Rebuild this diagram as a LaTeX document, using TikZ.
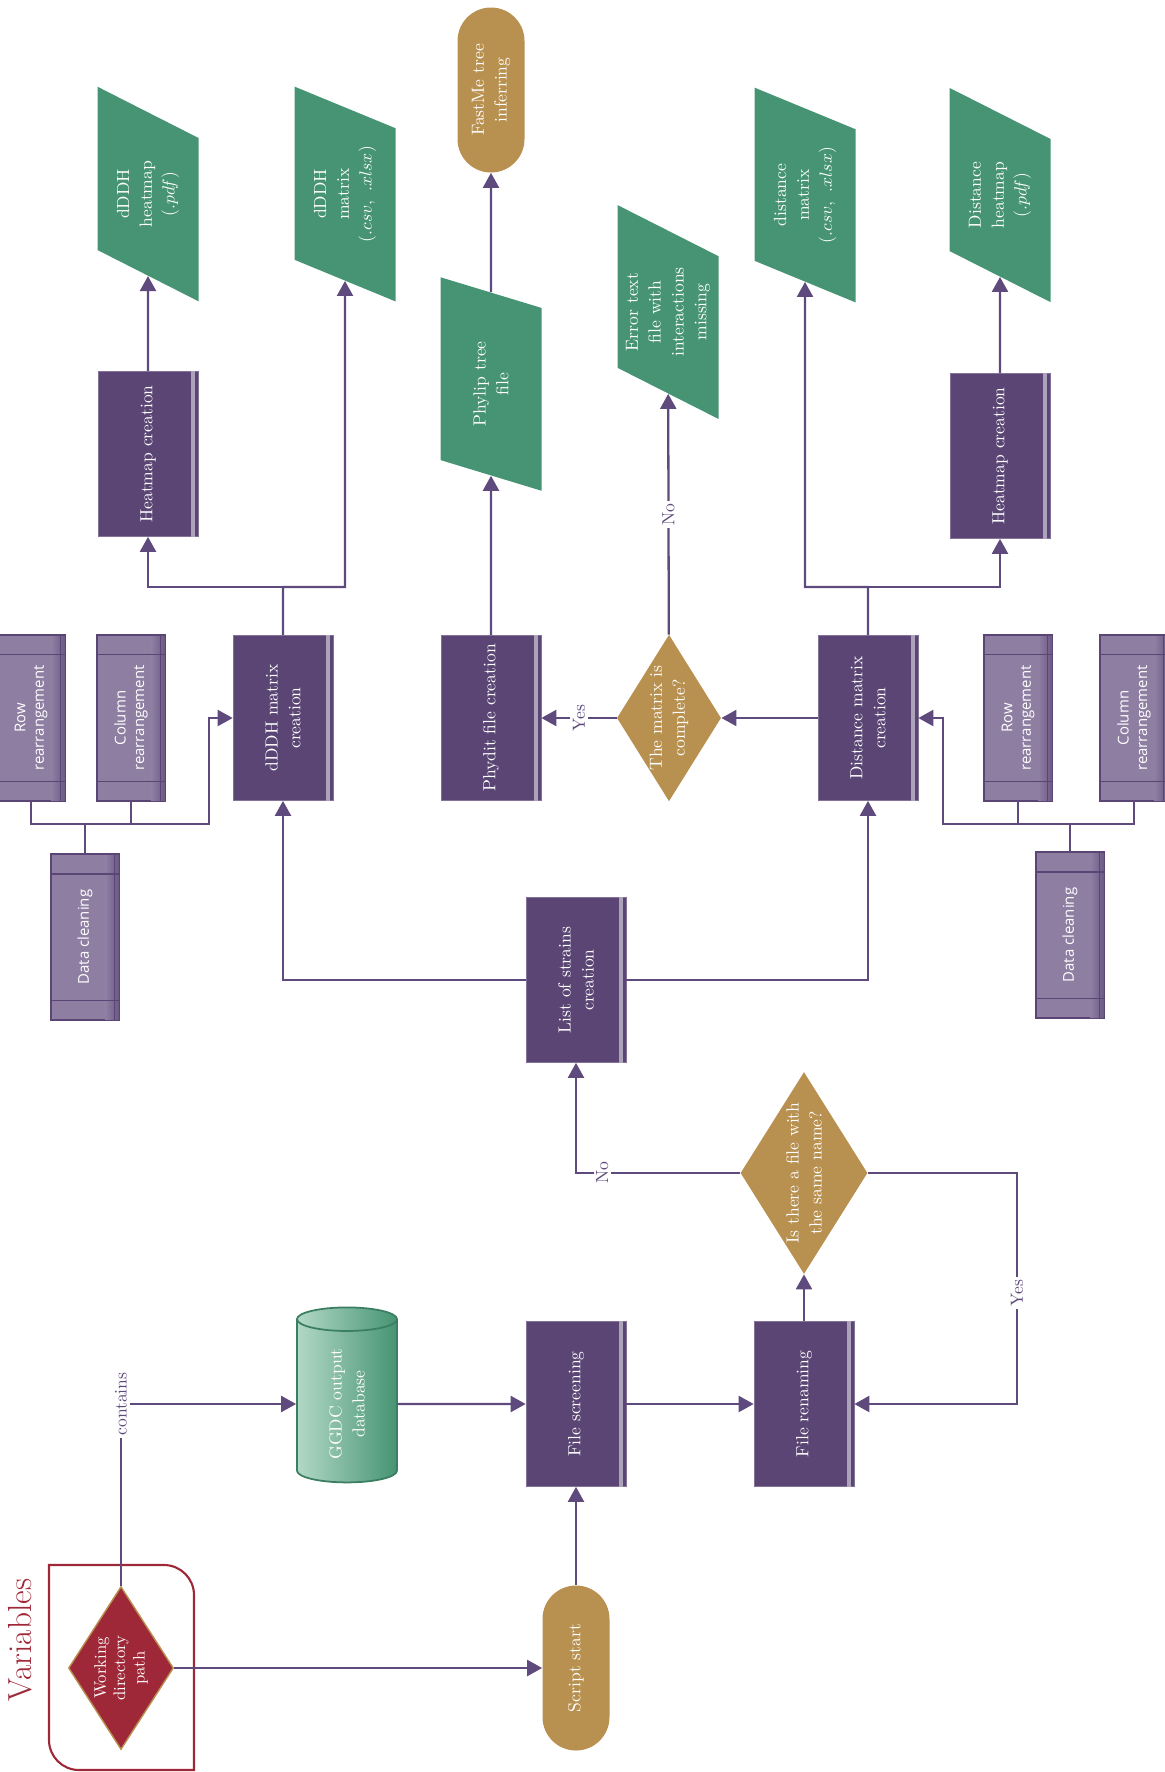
\documentclass[tikz,border=0pt]{standalone}
\usepackage{fontspec}
\newfontfamily\stepfont{Open Sans}
\usepackage{tikz}
\usetikzlibrary{arrows.meta, shapes.geometric, calc}

\definecolor{purpD}{HTML}{5A4574}
\definecolor{purpL}{HTML}{8E7EA2}
\definecolor{purpS}{HTML}{6A5785}
\definecolor{flowc}{HTML}{5E4A7C}
\definecolor{greenD}{HTML}{469473}
\definecolor{greenL}{HTML}{B2D8C6}
\definecolor{goldD}{HTML}{B8904F}
\definecolor{redD}{HTML}{9E2838}

\begin{document}
\begin{tikzpicture}[font=\fontsize{10}{13}\selectfont, >={Triangle[length=0.3cm, width=0.32cm]},
  every node/.style={rotate=90, align=center},
  line/.style={draw=flowc, line width=1.3pt},
  flow/.style={line, ->},
  lbl/.style={fill=white, text=flowc, inner sep=1.5pt},
  procbox/.style={rectangle, fill=purpD, draw=purpD!75!white, thin, text=white, minimum width=3.3cm, minimum height=2cm, inner sep=2pt},
  stepbox/.style={rectangle, fill=purpL, draw=purpD, line width=0.9pt, text=white, font=\stepfont\fontsize{8.5}{10.5}\selectfont, minimum width=3.3cm, minimum height=1.34cm, inner sep=1pt},
  termbox/.style={rectangle, rounded corners=0.67cm, fill=goldD, text=white, minimum width=3.3cm, minimum height=1.34cm},
  askbox/.style={diamond, aspect=1.6, fill=goldD, text=white, inner sep=0pt},
  databox/.style={trapezium, trapezium left angle=64, trapezium right angle=116, trapezium stretches=true, fill=greenD, text=white, minimum width=4.3cm, minimum height=2.02cm, inner sep=0pt},
  storebox/.style={cylinder, shape aspect=0.5, draw=greenD!85!black, line width=1pt, left color=greenL, right color=greenD, text=white, minimum width=2cm, minimum height=3.5cm},
]
  \useasboundingbox (0,0) rectangle (23.3,-35.44);
  % variables frame
  \draw[redD, line width=1.2pt] (0.98,-31.3) -- (3.28,-31.3) arc[start angle=90, end angle=0, radius=0.6]
    -- (3.88,-35.4) -- (1.58,-35.4) arc[start angle=270, end angle=180, radius=0.6] -- cycle;
  \node[text=redD, font=\fontsize{19}{22}\selectfont] (vars) at (0.4,-32.8) {Variables};
  \node[diamond, aspect=1.55, fill=redD, draw=goldD, line width=0.8pt, text=white, inner sep=0pt,
    minimum width=3.26cm, minimum height=2.1cm, font=\fontsize{9.5}{11}\selectfont] (wdp) at (2.42,-33.36) {Working\\directory\\path};
  % main line
  \node[termbox] (start) at (11.52,-33.36) {Script start};
  \node[storebox] (ggdc) at (6.94,-28.08) {GGDC output\\database};
  \node[procbox] (screen) at (11.52,-28.08) {File screening};
  \node[procbox] (rename) at (16.08,-28.08) {File renaming};
  \node[askbox, minimum width=4.04cm, minimum height=2.54cm] (samename) at (16.08,-23.46) {Is there a file with\\the same name?};
  \node[procbox] (strains) at (11.52,-19.6) {List of strains\\creation};
  \coordinate (yesc) at (20.34,-28.08);
  % dDDH side
  \node[procbox] (dddh) at (5.66,-14.36) {dDDH matrix\\creation};
  \node[stepbox] (cleanA) at (1.7,-18.74) {Data cleaning};
  \node[stepbox] (rowA) at (0.62,-14.36) {Row\\rearrangement};
  \node[stepbox] (colA) at (2.62,-14.36) {Column\\rearrangement};
  \node[procbox] (heatA) at (2.96,-9.08) {Heatmap creation};
  \node[databox] (dddhpdf) at (2.96,-3.88) {dDDH\\heatmap\\$(.pdf)$};
  \node[databox] (dddhcsv) at (6.9,-3.88) {dDDH\\matrix\\$(.csv,\ .xlsx)$};
  \coordinate (jA) at (4.18,-16.48);
  \coordinate (brA) at (0,-11.74);
  % tree side
  \node[procbox] (phydit) at (9.82,-14.36) {Phydit file creation};
  \node[databox] (phylip) at (9.82,-7.68) {Phylip tree\\file};
  \node[termbox] (fastme) at (9.82,-1.8) {FastMe tree\\inferring};
  \node[askbox, minimum width=3.3cm, minimum height=1.98cm] (complete) at (13.38,-14.36) {The matrix is\\complete?};
  \node[databox] (errtxt) at (13.36,-6.24) {Error text\\file with\\interactions\\missing};
  % distance side
  \node[procbox] (dist) at (17.36,-14.36) {Distance matrix\\creation};
  \node[stepbox] (cleanB) at (21.4,-18.7) {Data cleaning};
  \node[stepbox] (rowB) at (20.36,-14.36) {Row\\rearrangement};
  \node[stepbox] (colB) at (22.68,-14.36) {Column\\rearrangement};
  \node[procbox] (heatB) at (20.0,-9.12) {Heatmap creation};
  \node[databox] (distcsv) at (16.1,-3.9) {distance\\matrix\\$(.csv,\ .xlsx)$};
  \node[databox] (distpdf) at (20.0,-3.9) {Distance\\heatmap\\$(.pdf)$};
  \coordinate (jB) at (18.86,-16.48);
  \coordinate (brB) at (0,-11.74);
  % box trims
  \foreach \n in {screen,rename,strains,dddh,dist,phydit,heatA,heatB} {
    \fill[white!50!purpD] ($(\n.south west)!0.03!(\n.north west)$) rectangle ($(\n.south east)!0.07!(\n.north east)$);
  }
  \foreach \n in {cleanA,rowA,colA,cleanB,rowB,colB} {
    \shade[left color=purpL, right color=purpS] ($(\n.south west)!0.2!(\n.north west)$) rectangle (\n.south east);
    \draw[purpD, line width=0.9pt] (\n.south west) rectangle (\n.north east);
    \draw[purpD, line width=0.9pt] ($(\n.south west)!0.12!(\n.south east)$) -- ($(\n.north west)!0.12!(\n.north east)$);
    \draw[purpD, line width=0.9pt] ($(\n.south east)!0.12!(\n.south west)$) -- ($(\n.north east)!0.12!(\n.north west)$);
    \draw[purpD] ($(\n.south west)!0.07!(\n.north west)$) -- ($(\n.south east)!0.07!(\n.north east)$);
  }
  % connectors
  \draw[flow] (wdp) -- (start);
  \draw[flow] (wdp) |- node[lbl, pos=0.5] {contains} (ggdc);
  \draw[flow] (ggdc) -- (screen);
  \draw[flow] (start) -- (screen);
  \draw[flow] (screen) -- (rename);
  \draw[flow] (rename) -- (samename);
  \draw[flow] (samename) -| node[lbl, pos=0.42] {No} (strains);
  \draw[flow] (samename) -| node[lbl, pos=0.76] {Yes} (yesc) -- (rename);
  \draw[flow] (strains) -| (dddh);
  \draw[flow] (strains) -| (dist);
  \draw[flow] (rowA) |- (jA) |- (dddh);
  \draw[line] (colA) -- (colA |- jA);
  \draw[line] (cleanA) -- (cleanA |- jA);
  \draw[flow] (colB) |- (jB) |- (dist);
  \draw[line] (rowB) -- (rowB |- jB);
  \draw[line] (cleanB) -- (cleanB |- jB);
  \draw[flow] (dddh) |- (heatA |- brA) -- (heatA);
  \draw[flow] (dddh) |- (dddhcsv |- brA) -- (dddhcsv);
  \draw[flow] (heatA) -- (dddhpdf);
  \draw[flow] (dist) |- (distcsv |- brB) -- (distcsv);
  \draw[flow] (dist) |- (heatB |- brB) -- (heatB);
  \draw[flow] (heatB) -- (distpdf);
  \draw[flow] (dist) -- (complete);
  \draw[flow] (complete) -- node[lbl] {Yes} (phydit);
  \draw[flow] (complete) -- node[lbl] {No} (errtxt);
  \draw[flow] (phydit) -- (phylip);
  \draw[flow] (phylip) -- (fastme);
\end{tikzpicture}
\end{document}
